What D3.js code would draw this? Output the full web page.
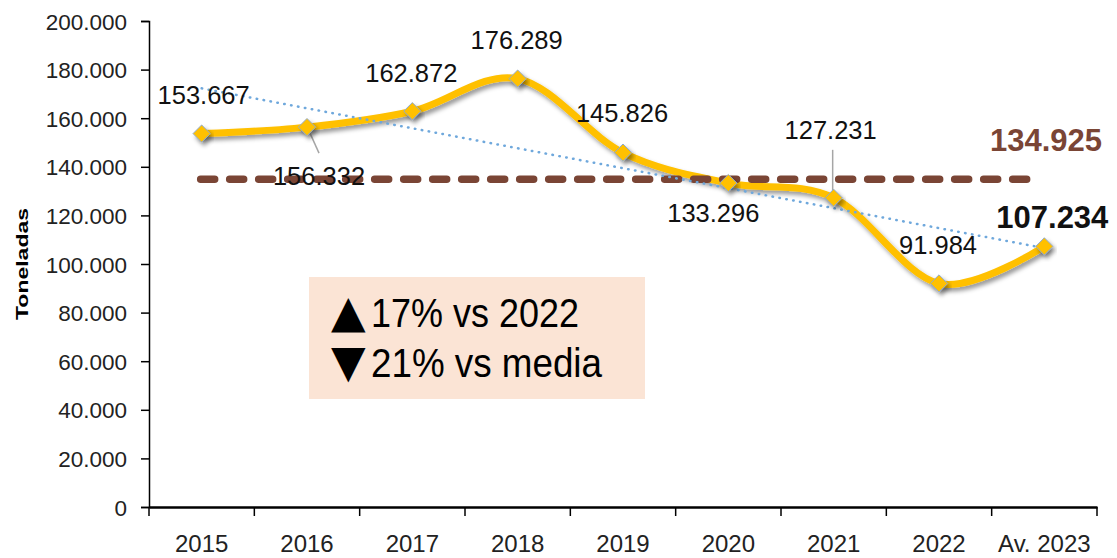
<!DOCTYPE html>
<html>
<head>
<meta charset="utf-8">
<script src="https://cdn.jsdelivr.net/npm/d3@7"></script>
<style>
  body { margin: 0; background: #fff; }
  svg { font-family: "Liberation Sans", Arial, sans-serif; }
</style>
</head>
<body>
<svg id="chart" width="1117" height="558"></svg>
<script>
// datos
var years = ["2015", "2016", "2017", "2018", "2019", "2020", "2021", "2022", "Av. 2023"];
var toneladas = [153667, 156332, 162872, 176289, 145826, 133296, 127231, 91984, 107234];
var media = 134925;
var yTicks = [0, 20000, 40000, 60000, 80000, 100000, 120000, 140000, 160000, 180000, 200000];
var notas = ["17% vs 2022", "21% vs media"];

// posicion de las etiquetas (dx, dy respecto al punto)
var labelOffsets = [[2, -30], [12, 58], [-1, -29], [-1, -30], [-1, -31], [-15, 39], [-3, -59], [-1, -29], [8, -18]];

var svg = d3.select("#chart");
var fmt = function (v) { return d3.format(",")(v).replace(/,/g, "."); };

var x = d3.scaleBand().domain(years).range([149, 1097]);
var y = d3.scaleLinear().domain([0, 200000]).range([507, 21]);
var cx = function (i) { return x(years[i]) + x.bandwidth() / 2; };

var defs = svg.append("defs");
var f = defs.append("filter").attr("id", "sombra")
  .attr("x", "-20%").attr("y", "-20%").attr("width", "140%").attr("height", "160%");
f.append("feDropShadow").attr("dx", 2.5).attr("dy", 3.5).attr("stdDeviation", 2)
  .attr("flood-color", "#000").attr("flood-opacity", 0.4);

// eje y
var yAxis = svg.append("g").attr("transform", "translate(149,0)")
  .call(d3.axisLeft(y).tickValues(yTicks).tickSize(8).tickPadding(14)
    .tickFormat(function (d) { return d === 0 ? "0" : fmt(d / 1000) + ".000"; }));
yAxis.select(".domain").attr("stroke", "#000").attr("stroke-width", 1.5);
yAxis.selectAll(".tick line").attr("stroke", "#000").attr("stroke-width", 1.5);
yAxis.selectAll(".tick text").attr("font-size", 22.5).attr("fill", "#222")
  .attr("font-family", "Liberation Sans, Arial, sans-serif").attr("dy", "0.36em");

// eje x
var xAxis = svg.append("g").attr("transform", "translate(0,507)")
  .call(d3.axisBottom(x).tickSize(0).tickPadding(28));
xAxis.select(".domain").attr("stroke", "#000").attr("stroke-width", 2.5);
xAxis.selectAll(".tick text").attr("font-size", 24).attr("fill", "#222")
  .attr("font-family", "Liberation Sans, Arial, sans-serif");
var bounds = years.map(function (d) { return x(d); }).concat([x.range()[1]]);
xAxis.selectAll(".sep").data(bounds).enter().append("line")
  .attr("x1", function (d) { return d; }).attr("x2", function (d) { return d; })
  .attr("y1", 0).attr("y2", 9).attr("stroke", "#000").attr("stroke-width", 1.5);

// titulo eje y
svg.append("text")
  .attr("transform", "translate(28,264) rotate(-90)")
  .attr("text-anchor", "middle")
  .attr("font-size", 17).attr("font-weight", "bold")
  .attr("textLength", 112).attr("lengthAdjust", "spacingAndGlyphs")
  .text("Toneladas");

// cuadro de notas
svg.append("rect").attr("x", 309).attr("y", 277).attr("width", 336).attr("height", 122)
  .attr("fill", "#FBE4D5");
var flechas = ["\u25B2", "\u25BC"];
notas.forEach(function (t, i) {
  var tx = svg.append("text").attr("x", 331).attr("y", 327 + i * 50).attr("fill", "#000");
  tx.append("tspan").attr("font-family", "DejaVu Sans").attr("font-size", 45).text(flechas[i]);
  tx.append("tspan").attr("font-size", 41).attr("font-family", "Liberation Sans, Arial, sans-serif")
    .attr("x", 371).attr("textLength", i === 0 ? 208 : 231).attr("lengthAdjust", "spacingAndGlyphs")
    .text(t);
});

// linea principal
var line = d3.line()
  .x(function (d, i) { return cx(i); })
  .y(function (d) { return y(d); })
  .curve(d3.curveCardinal.tension(0));
svg.append("path").datum(toneladas).attr("d", line)
  .attr("fill", "none").attr("stroke", "#FFC000").attr("stroke-width", 7)
  .attr("stroke-linecap", "round").attr("filter", "url(#sombra)");

// media
svg.append("line")
  .attr("x1", cx(0) - 1).attr("x2", cx(years.length - 1) - 11)
  .attr("y1", y(media)).attr("y2", y(media))
  .attr("stroke", "#7A4535").attr("stroke-width", 7.5)
  .attr("stroke-dasharray", "14,15").attr("stroke-linecap", "round");
svg.append("text").attr("x", 1102).attr("y", 151).attr("text-anchor", "end")
  .attr("font-size", 31).attr("font-weight", "bold").attr("fill", "#7A4535")
  .text(fmt(media));

// tendencia lineal
var n = toneladas.length;
var mx = d3.mean(toneladas, function (d, i) { return i; });
var my = d3.mean(toneladas);
var slope = d3.sum(toneladas, function (d, i) { return (i - mx) * (d - my); }) /
  d3.sum(toneladas, function (d, i) { return (i - mx) * (i - mx); });
svg.append("line")
  .attr("x1", cx(0)).attr("y1", y(my - slope * mx))
  .attr("x2", cx(n - 1)).attr("y2", y(my + slope * (n - 1 - mx)))
  .attr("stroke", "#6FA8DC").attr("stroke-width", 2.5)
  .attr("stroke-dasharray", "0.5,6.5").attr("stroke-linecap", "round");

// lineas guia de etiquetas
var guias = [[1, [3, 6], [12, 26]], [6, [-1, -6], [-1, -48]]];
guias.forEach(function (g) {
  var px = cx(g[0]), py = y(toneladas[g[0]]);
  svg.append("line").attr("x1", px + g[1][0]).attr("y1", py + g[1][1])
    .attr("x2", px + g[2][0]).attr("y2", py + g[2][1])
    .attr("stroke", "#A6A6A6").attr("stroke-width", 1.5);
});

// marcadores
svg.selectAll(".mk").data(toneladas).enter().append("path")
  .attr("class", "mk")
  .attr("d", d3.symbol().type(d3.symbolDiamond2).size(190))
  .attr("transform", function (d, i) { return "translate(" + cx(i) + "," + y(d) + ")"; })
  .attr("fill", "#FFC000").attr("stroke", "#8FAACC").attr("stroke-width", 1)
  .attr("filter", "url(#sombra)");

// etiquetas
svg.selectAll(".lbl").data(toneladas).enter().append("text")
  .attr("class", "lbl")
  .attr("x", function (d, i) { return cx(i) + labelOffsets[i][0]; })
  .attr("y", function (d, i) { return y(d) + labelOffsets[i][1]; })
  .attr("text-anchor", "middle")
  .attr("font-size", function (d, i) { return i === n - 1 ? 31 : 25.5; })
  .attr("font-weight", function (d, i) { return i === n - 1 ? "bold" : "normal"; })
  .attr("fill", "#111")
  .text(function (d) { return fmt(d); });
</script>
</body>
</html>
